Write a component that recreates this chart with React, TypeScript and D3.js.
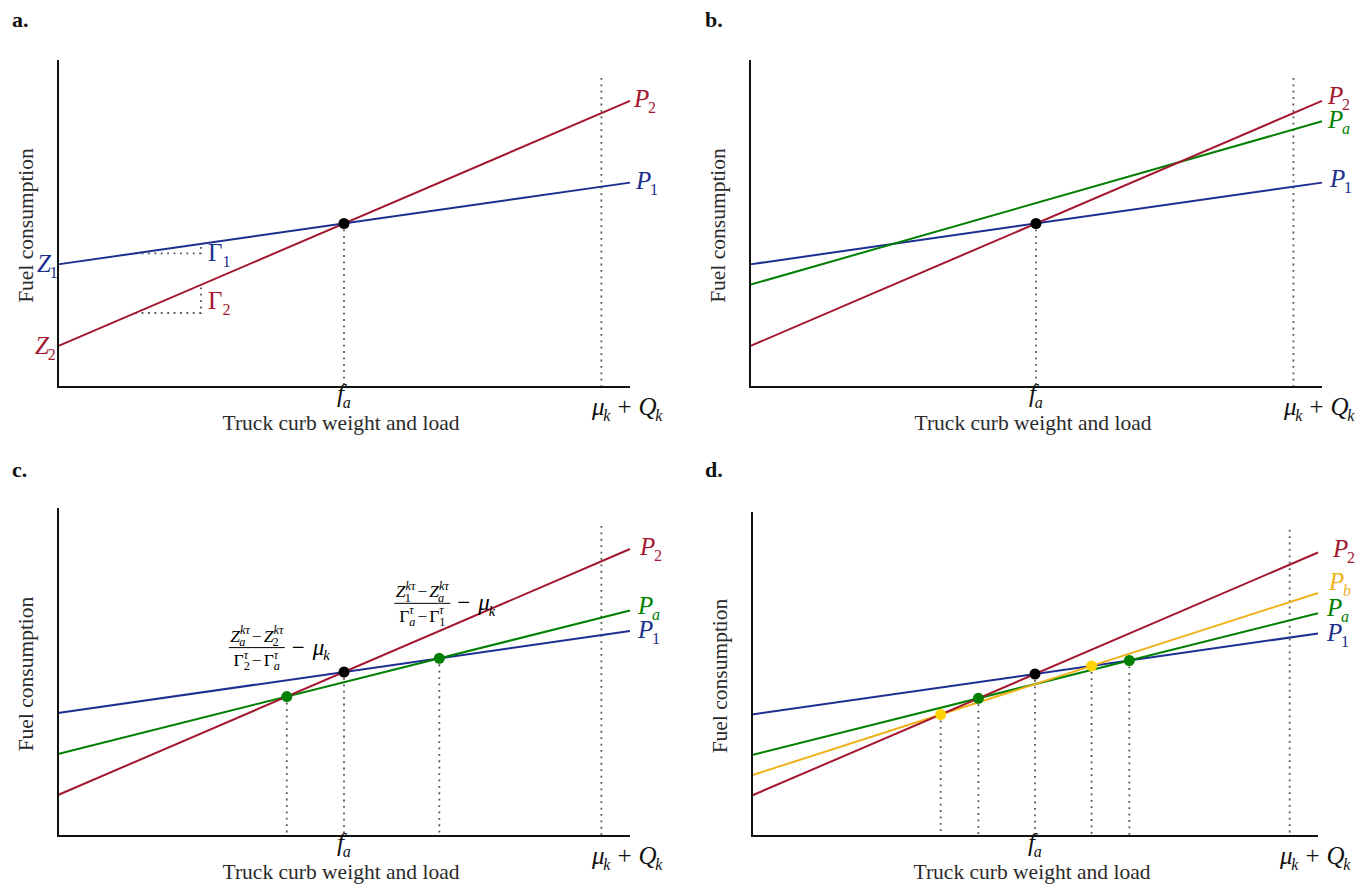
import React from 'react'
import * as d3 from 'd3'

// chart values (abstract units, x and y both 0..100)
const xDomain = [0, 100]
const yDomain = [0, 100]
const fA = 50
const muQ = 95
const muQTop = 94.5
const p1Ends = [37.5, 62.5]
const p2Ends = [12.5, 87.5]
const paEndsB = [31.25, 81.25]
const paEnds = [25, 68.75]
const pbEnds = [18.75, 75]
const gammaX = [13.5, 25]

const RED = '#a3172f'
const BLUE = '#1c2f8e'
const GREEN = '#008000'
const YELLOW = '#f0b21a'
const GOLD = '#ffd400'
const DOT = '#555'
const FONT = '"Liberation Serif", "DejaVu Serif", serif'
const MATH = 25

const W = 1368
const H = 886

let ctx = null
const measure = (t, size, it) => {
    if (!ctx) ctx = document.createElement('canvas').getContext('2d')
    ctx.font = `${it ? 'italic ' : ''}${size}px "Liberation Serif"`
    return ctx.measureText(t).width
}

// lays out math-like pieces: base text with optional sub/superscript
const formula = (pieces, x, y, size, color, key, ratio = 0.64) => {
    const els = []
    let cx = x
    pieces.forEach((p, i) => {
        const bw = p.t ? measure(p.t, size, p.it) : 0
        if (p.t) els.push(<text key={key + 'b' + i} x={cx} y={y} fontSize={size} fontStyle={p.it ? 'italic' : 'normal'} fill={color} fontFamily={FONT}>{p.t}</text>)
        const ss = size * ratio
        let sw = 0
        const tuck = p.it && p.t ? size * 0.05 : 0
        if (p.sup) {
            els.push(<text key={key + 'p' + i} x={cx + bw} y={y - size * 0.42} fontSize={ss} fontStyle={p.supIt ? 'italic' : 'normal'} fill={color} fontFamily={FONT}>{p.sup}</text>)
            sw = Math.max(sw, measure(p.sup, ss, p.supIt))
        }
        if (p.sub) {
            els.push(<text key={key + 's' + i} x={cx + bw - tuck} y={y + size * 0.24} fontSize={ss} fontStyle={p.subIt ? 'italic' : 'normal'} fill={color} fontFamily={FONT}>{p.sub}</text>)
            sw = Math.max(sw, measure(p.sub, ss, p.subIt) - tuck)
        }
        cx += bw + sw + (p.gap || 0)
    })
    return { els, w: cx - x }
}

const fraction = (num, den, rest, x, y, size, key) => {
    const n = formula(num, 0, 0, size, '#000', key + 'n', 0.7)
    const d = formula(den, 0, 0, size, '#000', key + 'd', 0.7)
    const bw = Math.max(n.w, d.w) + 3
    const r = formula(rest, x + bw + 7, y + 7, 23, '#000', key + 'r')
    return (
        <g key={key}>
            <g transform={`translate(${x + (bw - n.w) / 2},${y - 6})`}>{n.els}</g>
            <line x1={x} x2={x + bw} y1={y} y2={y} stroke="#000" strokeWidth={1} />
            <g transform={`translate(${x + (bw - d.w) / 2},${y + size + 1})`}>{d.els}</g>
            {r.els}
        </g>
    )
}

const pLabel = (sub, subIt) => [{ t: 'P', it: true, sub, subIt }]

const panels = [
    {
        id: 'a', lx: 12, ly: 27,
        box: { left: 58, right: 630, top: 60, bottom: 387 },
        lines: [
            { name: '2', it: false, ends: p2Ends, color: RED, dx: 4, dy: 6 },
            { name: '1', it: false, ends: p1Ends, color: BLUE, dx: 6, dy: 6 },
        ],
        marks: [['1', '2', '#000']],
        gamma: true,
    },
    {
        id: 'b', lx: 705, ly: 27,
        box: { left: 750, right: 1322, top: 60, bottom: 387 },
        lines: [
            { name: '1', it: false, ends: p1Ends, color: BLUE, dx: 8, dy: 4 },
            { name: 'a', it: true, ends: paEndsB, color: GREEN, dx: 6, dy: 7 },
            { name: '2', it: false, ends: p2Ends, color: RED, dx: 6, dy: 3 },
        ],
        marks: [['1', '2', '#000']],
    },
    {
        id: 'c', lx: 12, ly: 477,
        box: { left: 58, right: 630, top: 508, bottom: 836 },
        lines: [
            { name: '1', it: false, ends: p1Ends, color: BLUE, dx: 8, dy: 7 },
            { name: 'a', it: true, ends: paEnds, color: GREEN, dx: 8, dy: 3 },
            { name: '2', it: false, ends: p2Ends, color: RED, dx: 10, dy: 6 },
        ],
        marks: [['1', '2', '#000'], ['2', 'a', GREEN], ['1', 'a', GREEN]],
        fractions: true,
    },
    {
        id: 'd', lx: 705, ly: 477,
        box: { left: 752, right: 1318, top: 512, bottom: 836 },
        lines: [
            { name: '1', it: false, ends: p1Ends, color: BLUE, dx: 9, dy: 7 },
            { name: 'a', it: true, ends: paEnds, color: GREEN, dx: 9, dy: 3 },
            { name: 'b', it: true, ends: pbEnds, color: YELLOW, dx: 11, dy: -3 },
            { name: '2', it: false, ends: p2Ends, color: RED, dx: 15, dy: 4 },
        ],
        marks: [['1', '2', '#000'], ['2', 'b', GOLD], ['2', 'a', GREEN], ['1', 'b', GOLD], ['1', 'a', GREEN]],
    },
]

const Panel = ({ p }) => {
    const { left, right, top, bottom } = p.box
    const x = d3.scaleLinear().domain(xDomain).range([left, right])
    const y = d3.scaleLinear().domain(yDomain).range([bottom, top])
    const byName = {}
    p.lines.forEach(l => { byName[l.name] = l })
    const valAt = (l, xv) => l.ends[0] + (l.ends[1] - l.ends[0]) * (xv - xDomain[0]) / (xDomain[1] - xDomain[0])
    const line = d3.line().x(d => x(d[0])).y(d => y(d[1]))
    const dots = p.marks.map(([a, b, c]) => {
        const la = byName[a], lb = byName[b]
        const sa = (la.ends[1] - la.ends[0]) / 100, sb = (lb.ends[1] - lb.ends[0]) / 100
        const xi = (lb.ends[0] - la.ends[0]) / (sa - sb)
        return { xv: xi, yv: valAt(la, xi), color: c }
    })
    const dotted = { stroke: DOT, strokeWidth: 1.8, strokeDasharray: '1.8 4.6', fill: 'none' }
    const blue = byName['1'], red = byName['2']
    const midX = (left + right) / 2

    return (
        <g>
            <text x={p.lx} y={p.ly} fontFamily={FONT} fontWeight="bold" fontSize={22} fill="#111">{p.id}.</text>
            {/* vertical guides */}
            <line x1={x(muQ)} x2={x(muQ)} y1={y(muQTop)} y2={bottom} {...dotted} />
            {dots.map((d, i) => (
                <line key={'v' + i} x1={x(d.xv)} x2={x(d.xv)} y1={y(d.yv) + 6} y2={bottom} {...dotted} />
            ))}
            {p.gamma && [blue, red].map((l, i) => (
                <path key={'g' + i} d={`M${x(gammaX[0])},${y(valAt(l, gammaX[0]))}H${x(gammaX[1])}V${y(valAt(l, gammaX[1]))}`} {...dotted} />
            ))}
            {p.lines.map(l => (
                <path key={l.name} d={line([[xDomain[0], l.ends[0]], [xDomain[1], l.ends[1]]])} stroke={l.color} strokeWidth={2} fill="none" />
            ))}
            {dots.map((d, i) => (
                <circle key={'c' + i} cx={x(d.xv)} cy={y(d.yv)} r={5.5} fill={d.color} />
            ))}
            {/* axes */}
            <path d={`M${left},${top}V${bottom}H${right}`} stroke="#111" strokeWidth={2} fill="none" />
            {p.lines.map(l => formula(pLabel(l.name, l.it), right + l.dx, y(l.ends[1]) + l.dy, MATH, l.color, 'pl' + l.name).els)}
            {p.gamma && (
                <g>
                    {formula([{ t: 'Z', it: true, sub: '1' }], left - 21, y(blue.ends[0]) + 8, MATH, BLUE, 'z1').els}
                    {formula([{ t: 'Z', it: true, sub: '2' }], left - 23, y(red.ends[0]) + 8, MATH, RED, 'z2').els}
                    {formula([{ t: 'Γ', sub: '1' }], x(gammaX[1]) + 7, y(valAt(blue, gammaX[0])) + 8, MATH, BLUE, 'g1').els}
                    {formula([{ t: 'Γ', sub: '2' }], x(gammaX[1]) + 7, (y(valAt(red, gammaX[0])) + y(valAt(red, gammaX[1]))) / 2 + 10, MATH, RED, 'g2').els}
                </g>
            )}
            {p.fractions && (
                <g>
                    {fraction(
                        [{ t: 'Z', it: true, sub: 'a', subIt: true, sup: 'kτ', supIt: true, gap: 2 }, { t: '−', gap: 2 }, { t: 'Z', it: true, sub: '2', sup: 'kτ', supIt: true }],
                        [{ t: 'Γ', sub: '2', sup: 'τ', supIt: true, gap: 2 }, { t: '−', gap: 2 }, { t: 'Γ', sub: 'a', subIt: true, sup: 'τ', supIt: true }],
                        [{ t: '−', gap: 8 }, { t: 'μ', it: true, sub: 'k', subIt: true }],
                        x(dots[1].xv) - 58, y(dots[1].yv) - 49, 17.5, 'f1')}
                    {fraction(
                        [{ t: 'Z', it: true, sub: '1', sup: 'kτ', supIt: true, gap: 2 }, { t: '−', gap: 2 }, { t: 'Z', it: true, sub: 'a', subIt: true, sup: 'kτ', supIt: true }],
                        [{ t: 'Γ', sub: 'a', subIt: true, sup: 'τ', supIt: true, gap: 2 }, { t: '−', gap: 2 }, { t: 'Γ', sub: '1', sup: 'τ', supIt: true }],
                        [{ t: '−', gap: 8 }, { t: 'μ', it: true, sub: 'k', subIt: true }],
                        x(dots[2].xv) - 45, y(dots[2].yv) - 55, 17.5, 'f2')}
                </g>
            )}
            {/* tick labels */}
            {formula([{ t: 'f', it: true, sub: 'a', subIt: true }], x(fA) - 7, bottom + 15, MATH, '#111', 'fa').els}
            {formula([{ t: 'μ', it: true, sub: 'k', subIt: true, gap: 7 }, { t: '+', gap: 7 }, { t: 'Q', it: true, sub: 'k', subIt: true }], right - 38, bottom + 28, MATH, '#111', 'mq').els}
            {/* axis titles */}
            <text x={midX - 3} y={bottom + 43} textAnchor="middle" fontFamily={FONT} fontSize={21.5} fill="#2a2a2a">Truck curb weight and load</text>
            <text transform={`translate(${left - 25},${(top + bottom) / 2 + 2}) rotate(-90)`} textAnchor="middle" fontFamily={FONT} fontSize={21.5} fill="#2a2a2a">Fuel consumption</text>
        </g>
    )
}

export default function App() {
    return (
        <svg width={W} height={H} style={{ position: 'absolute', left: 0, top: 0, background: '#fff' }}>
            <rect width={W} height={H} fill="#fff" />
            {panels.map(p => <Panel key={p.id} p={p} />)}
        </svg>
    )
}
